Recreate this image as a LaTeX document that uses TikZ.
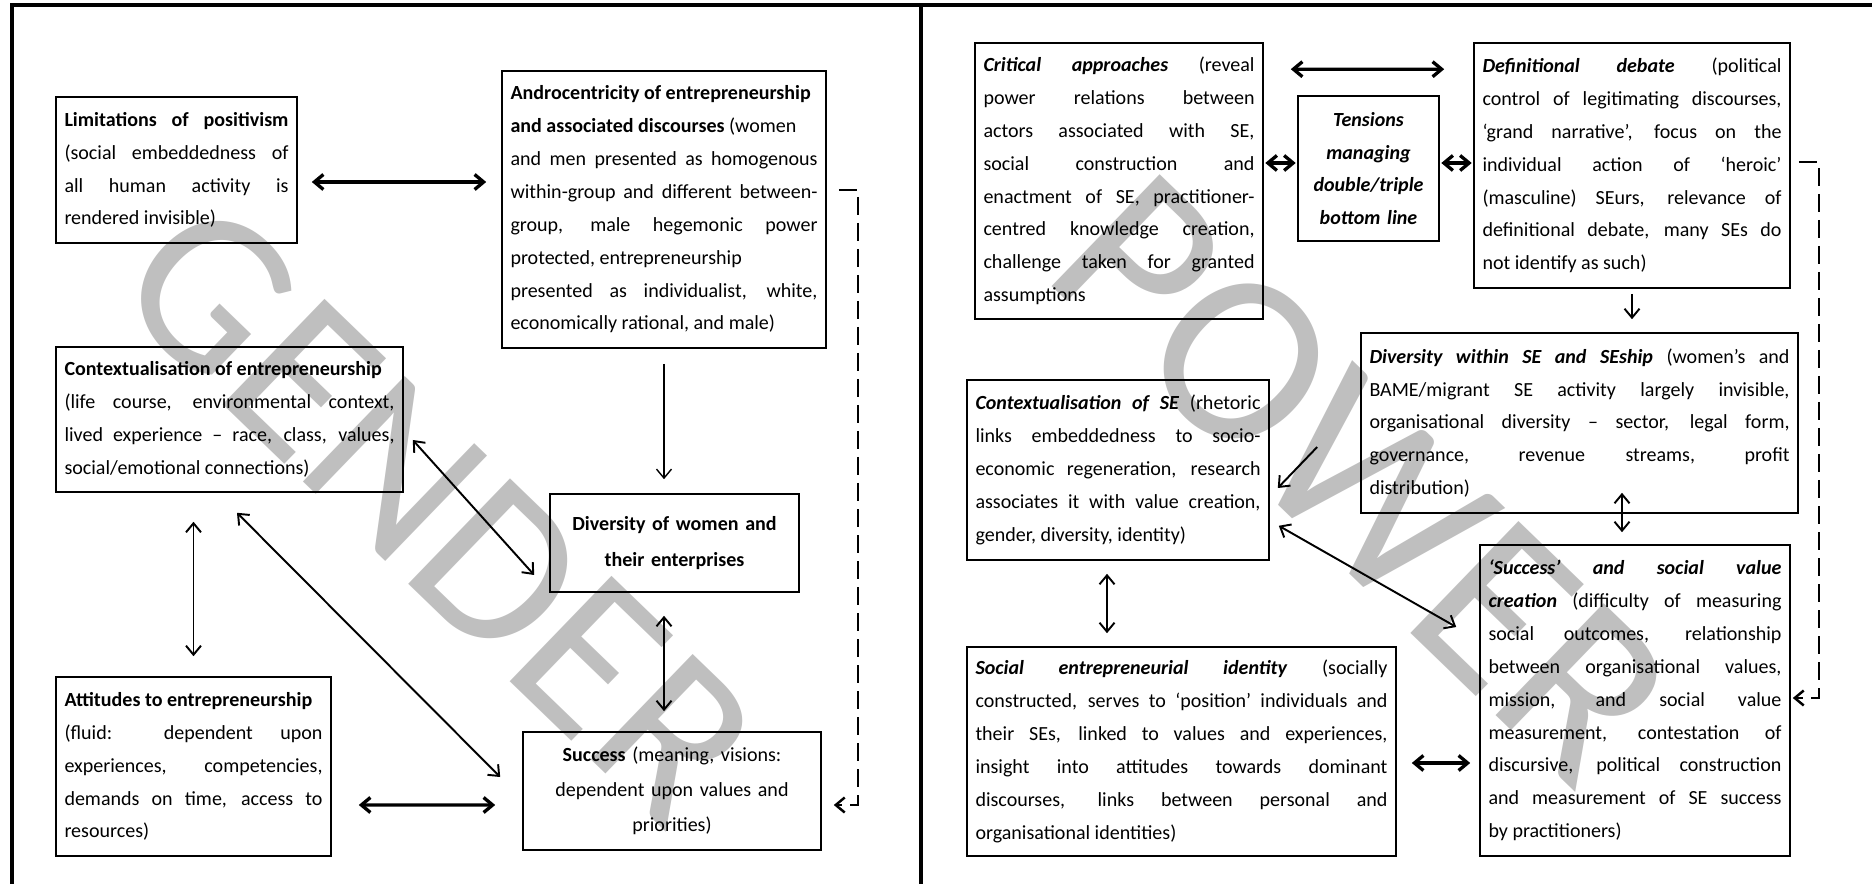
\documentclass[tikz,border=0pt]{standalone}
\usepackage{fontspec}
\setmainfont{Carlito}
\usetikzlibrary{calc, positioning, arrows.meta}

\begin{document}
\begin{tikzpicture}[
            box/.style={draw, line width=0.9pt, inner xsep=0.17cm, inner ysep=0.1cm,
                        align=justify, font=\fontsize{11.4}{18.7}\selectfont},
            ctr/.style={box, align=center},
            dbl/.style={{Straight Barb[length=1.8mm,width=3mm]}-{Straight Barb[length=1.8mm,width=3mm]},
                        line width=1.1pt},
            arr/.style={-{Straight Barb[length=1.8mm,width=3mm]}, line width=1.1pt},
            heavy/.style={line width=1.9pt},
            dsh/.style={arr, line width=1.4pt, dash pattern=on 0.36cm off 0.16cm},
            frame/.style={line width=2pt},
            wmark/.style={text=black!25, rotate=-44}
        ]
        \useasboundingbox (0,0) rectangle (37.44,-17.68);

        % --- panel frame ---
        \draw[frame] (0.24,-17.68) -- (0.24,-0.10) -- (37.44,-0.10);
        \draw[frame] (18.42,-0.10) -- (18.42,-17.68);

        % --- watermarks ---
        \node[wmark, font=\fontsize{130}{130}\selectfont] (gwm) at (8.78,-10.22) {GENDER};
        \node[wmark, font=\fontsize{138}{138}\selectfont] (pwm) at (27.26,-9.58) {POWER};

        % --- Gender panel ---
        \node[box, text width=4.48cm, minimum height=2.92cm] (lim) at (3.53,-3.40)
            {\textbf{Limitations of positivism}\linebreak (social embeddedness of\linebreak
             all human activity is\linebreak rendered invisible)};
        \node[box, text width=6.14cm, minimum height=5.54cm] (andro) at (13.28,-4.19)
            {\textbf{Androcentricity of entrepreneurship}\\ \textbf{and associated discourses} (women\\
             and men presented as homogenous\linebreak within-group and different between-\linebreak
             group, male hegemonic power\linebreak protected, entrepreneurship\\
             presented as individualist, white,\linebreak economically rational, and male)};
        \node[box, text width=6.60cm, minimum height=2.90cm] (ctx) at (4.59,-8.39)
            {\textbf{Contextualisation of entrepreneurship}\\ (life course, environmental context,\linebreak
             lived experience – race, class, values,\linebreak social/emotional connections)};
        \node[ctr, text width=4.64cm, minimum height=1.96cm, font=\fontsize{11.4}{20.5}\selectfont] (div)
            at (13.49,-10.86) {\textbf{Diversity of women and}\\ \textbf{their enterprises}};
        \node[box, text width=5.16cm, minimum height=3.58cm] (att) at (3.87,-15.33)
            {\textbf{Attitudes to entrepreneurship}\\ (fluid: dependent upon\linebreak
             experiences, competencies,\linebreak demands on time, access to\linebreak resources)};
        \node[ctr, text width=5.62cm, minimum height=2.36cm, font=\fontsize{11.4}{20}\selectfont] (succ)
            at (13.44,-15.82) {\textbf{Success} (meaning, visions:\\ dependent upon values and\\ priorities)};

        \draw[dbl, heavy] ([xshift=0.28cm,yshift=-0.24cm]lim.east) -- ($(lim.east -| andro.west)+(-0.3,-0.24)$);
        \draw[arr, line width=0.8pt] ([yshift=-0.3cm]andro.south) -- ($(div.north -| andro.south)+(0,0.28)$);
        \draw[dbl] ([xshift=0.18cm,yshift=-0.41cm]ctx.east) -- ([xshift=-0.3cm,yshift=-0.64cm]div.west);
        \draw[dbl] ($(ctx.south -| att.north)+(0,-0.58)$) -- ([yshift=0.4cm]att.north);
        \draw[dbl] ([xshift=0.15cm,yshift=-0.4cm]ctx.south) -- ([xshift=-0.44cm,yshift=0.28cm]succ.west);
        \draw[dbl] ($(div.south -| andro.south)+(0,-0.46)$) -- ($(succ.north -| andro.south)+(0,0.4)$);
        \draw[dbl, heavy] ([xshift=0.54cm,yshift=-0.77cm]att.east) -- ($(att.east -| succ.west)+(-0.54,-0.77)$);
        \draw[dsh] ([xshift=0.24cm,yshift=0.39cm]andro.east) -- ++(0.38,0)
            |- ([xshift=0.24cm,yshift=-0.28cm]succ.east);

        % --- Power panel ---
        \node[box, text width=5.42cm, minimum height=5.52cm] (crit) at (22.38,-3.62)
            {\textbf{\textit{Critical approaches}} (reveal\linebreak power relations between\linebreak
             actors associated with SE,\linebreak social construction and\linebreak
             enactment of SE, practitioner-\linebreak centred knowledge creation,\linebreak
             challenge taken for granted\linebreak assumptions};
        \node[ctr, text width=2.48cm, minimum height=2.90cm] (tens) at (27.37,-3.37)
            {\textbf{\textit{Tensions}}\\ \textbf{\textit{managing}}\\ \textbf{\textit{double/triple}}\\
             \textbf{\textit{bottom line}}};
        \node[box, text width=5.98cm, minimum height=4.90cm] (defn) at (32.64,-3.31)
            {\textbf{\textit{Definitional debate}} (political\linebreak control of legitimating discourses,\linebreak
             ‘grand narrative’, focus on the\linebreak individual action of ‘heroic’\linebreak
             (masculine) SEurs, relevance of\linebreak definitional debate, many SEs do\linebreak
             not identify as such)};
        \node[box, text width=8.40cm, minimum height=3.60cm] (divse) at (31.59,-8.46)
            {\textbf{\textit{Diversity within SE and SEship}} (women’s and\linebreak
             BAME/migrant SE activity largely invisible,\linebreak
             organisational diversity – sector, legal form,\linebreak
             governance, revenue streams, profit\linebreak distribution)};
        \node[box, text width=5.70cm, minimum height=3.60cm] (ctxse) at (22.36,-9.40)
            {\textbf{\textit{Contextualisation of SE}} (rhetoric\linebreak links embeddedness to socio-\linebreak
             economic regeneration, research\linebreak associates it with value creation,\linebreak
             gender, diversity, identity)};
        \node[box, text width=5.86cm, minimum height=6.22cm] (succse) at (32.70,-14.01)
            {\textbf{\textit{‘Success’ and social value}}\linebreak \textbf{\textit{creation}} (difficulty of measuring\linebreak
             social outcomes, relationship\linebreak between organisational values,\linebreak
             mission, and social value\linebreak measurement, contestation of\linebreak
             discursive, political construction\linebreak and measurement of SE success\linebreak
             by practitioners)};
        \node[box, text width=8.24cm, minimum height=4.18cm] (ident) at (23.63,-15.03)
            {\textbf{\textit{Social entrepreneurial identity}} (socially\linebreak
             constructed, serves to ‘position’ individuals and\linebreak
             their SEs, linked to values and experiences,\linebreak
             insight into attitudes towards dominant\linebreak
             discourses, links between personal and\linebreak organisational identities)};

        \draw[dbl, heavy] ([xshift=0.54cm,yshift=-0.54cm]crit.north east) -- ([xshift=-0.58cm,yshift=-0.54cm]defn.north west);
        \draw[dbl, heavy] ([xshift=0.03cm,yshift=0.36cm]crit.east) -- ($(crit.east -| tens.west)+(-0.03,0.36)$);
        \draw[dbl, heavy] ([xshift=0.03cm,yshift=0.11cm]tens.east) -- ($(tens.east -| defn.west)+(-0.03,0.11)$);
        \draw[arr] ([yshift=-0.1cm]defn.south) -- ($(divse.north -| defn.south)+(0,0.26)$);
        \draw[arr] ([xshift=-0.86cm,yshift=-0.48cm]divse.west) -- ([xshift=0.16cm,yshift=-0.36cm]ctxse.east);
        \draw[dbl] ($(divse.south -| succse.north)+(-0.26,0.42)$) -- ([xshift=-0.26cm,yshift=0.24cm]succse.north);
        \draw[dbl] ([xshift=0.18cm,yshift=0.7cm]ctxse.south east) -- ([xshift=-0.46cm,yshift=1.47cm]succse.west);
        \draw[dbl] ([xshift=-0.22cm,yshift=-0.26cm]ctxse.south) -- ($(ctxse.south |- ident.north)+(-0.22,0.26)$);
        \draw[dbl, heavy] ([xshift=0.3cm,yshift=-0.23cm]ident.east) -- ($(ident.east -| succse.west)+(-0.18,-0.23)$);
        \draw[dsh] ([xshift=0.16cm,yshift=0.07cm]defn.east) -- ++(0.4,0)
            |- ([xshift=0.04cm,yshift=0.05cm]succse.east);
        \end{tikzpicture}
\end{document}
